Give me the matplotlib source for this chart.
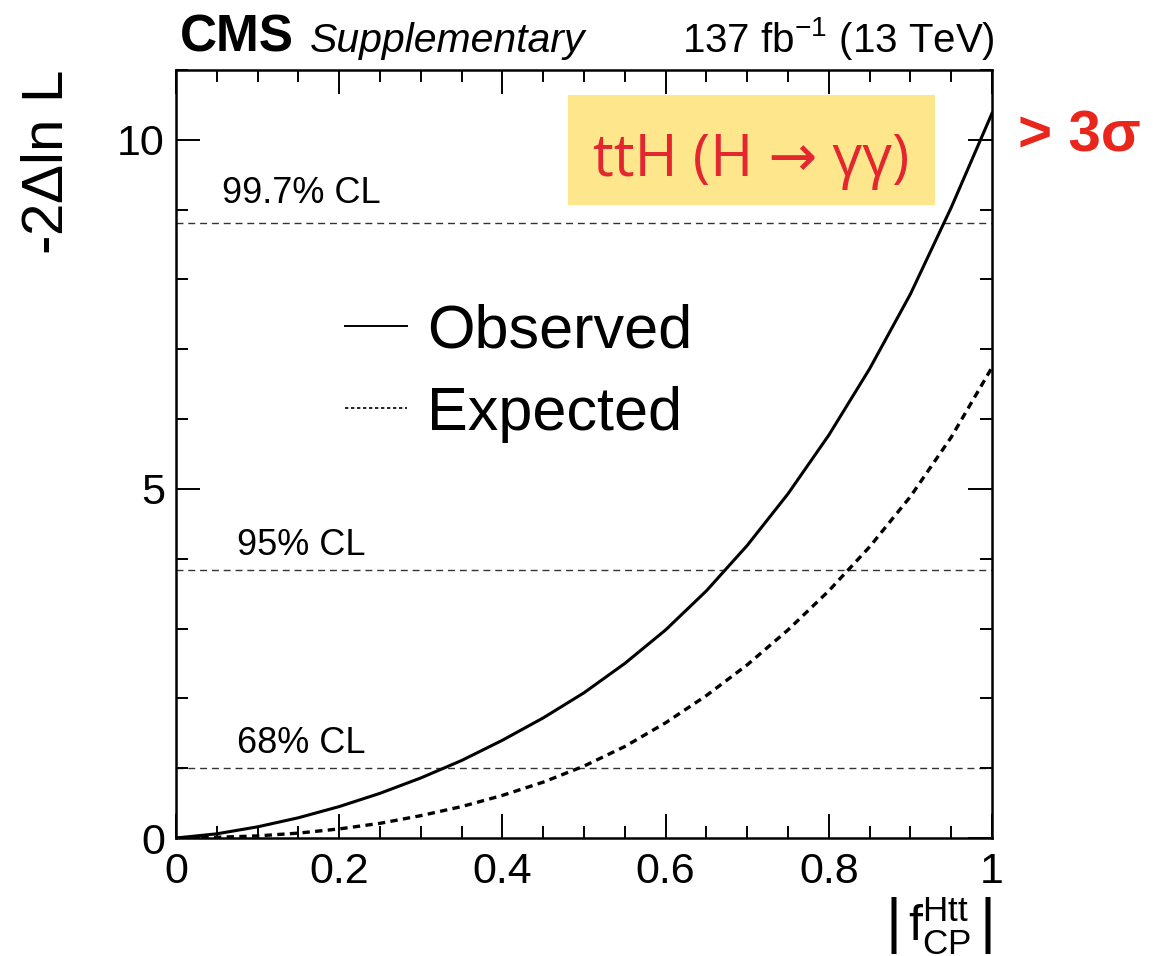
import matplotlib
matplotlib.use("Agg")
import matplotlib.pyplot as plt
from matplotlib.lines import Line2D
from matplotlib.patches import Rectangle

# ---------------- data ----------------
fcp = [0.00, 0.05, 0.10, 0.15, 0.20, 0.25, 0.30, 0.35, 0.40, 0.45, 0.50,
       0.55, 0.60, 0.65, 0.70, 0.75, 0.80, 0.85, 0.90, 0.95, 1.00]
observed = [0.00, 0.06, 0.16, 0.29, 0.45, 0.64, 0.86, 1.11, 1.40, 1.72, 2.08,
            2.50, 2.98, 3.54, 4.19, 4.93, 5.77, 6.72, 7.79, 9.03, 10.38]
expected = [0.00, 0.01, 0.03, 0.07, 0.13, 0.21, 0.32, 0.45, 0.61, 0.80, 1.03,
            1.31, 1.65, 2.04, 2.48, 2.98, 3.54, 4.17, 4.89, 5.74, 6.74]
cl_levels = [1.0, 3.84, 8.81]
cl_labels = ["68% CL", "95% CL", "99.7% CL"]
x_ticks = [0, 0.2, 0.4, 0.6, 0.8, 1]
x_ticklabels = ["0", "0.2", "0.4", "0.6", "0.8", "1"]
y_ticks = [0, 5, 10]

plt.rcParams['font.family'] = ['Liberation Sans', 'DejaVu Sans']
plt.rcParams['mathtext.fontset'] = 'custom'
plt.rcParams['mathtext.rm'] = 'Liberation Sans'
plt.rcParams['mathtext.it'] = 'Liberation Sans:italic'
plt.rcParams['mathtext.bf'] = 'Liberation Sans:bold'

W, H = 1162, 956
fig = plt.figure(figsize=(W / 100, H / 100), dpi=100)
ax = fig.add_axes([176 / W, (956 - 838) / H, (992 - 176) / W, (838 - 70) / H])

# CL lines and labels
for lvl, lab in zip(cl_levels, cl_labels):
    ax.axhline(lvl, color='#333333', lw=1.0, linestyle=(0, (5, 3.5)), zorder=1)
    ax.text(0.154, lvl + (0.28 if lvl > 5 else 0.22), lab, ha='center', va='baseline',
            fontsize=26, color='black')

ax.plot(fcp, observed, color='black', lw=2.2, zorder=3)
ax.plot(fcp, expected, color='black', lw=2.4, linestyle=(0, (2.2, 1.6)), zorder=3)

ax.set_xlim(0, 1)
ax.set_ylim(0, 11)
ax.set_xticks(x_ticks)
ax.set_xticklabels(x_ticklabels)
ax.set_yticks(y_ticks)
ax.set_xticks([i * 0.05 for i in range(21)], minor=True)
ax.set_yticks(list(range(12)), minor=True)
ax.tick_params(which='both', direction='in', top=True, right=True, width=1.4,
               labelsize=31)
ax.tick_params(which='major', length=17)
ax.tick_params(which='minor', length=8.5)
ax.tick_params(axis='x', which='major', pad=10)
ax.tick_params(axis='y', which='major', pad=8)
for s in ax.spines.values():
    s.set_linewidth(1.8)

ax.set_ylabel(r"-2$\Delta$ln L", fontsize=42, loc='top', labelpad=30)
ax.set_xlabel(r"$\left|\,\mathrm{f}_{\rm CP}^{\rm Htt}\,\right|$", fontsize=36,
              loc='right', labelpad=2)

# legend
handles = [Line2D([], [], color='black', lw=1.4),
           Line2D([], [], color='black', lw=1.2, linestyle=(0, (2, 1.6)))]
ax.legend(handles, ["Observed", "Expected"], loc='center left',
          bbox_to_anchor=(0.207, 0.6055), frameon=False, fontsize=44,
          handlelength=1.02, handletextpad=0.32, labelspacing=0.41,
          borderpad=0, borderaxespad=0)

# header
fig.text(180 / W, 1 - 52 / H, "CMS", fontsize=37, fontweight='bold', ha='left', va='baseline')
fig.text(310 / W, 1 - 52 / H, "Supplementary", fontsize=29.5, style='italic', ha='left', va='baseline')
fig.text(995 / W, 1 - 52 / H, r"137 fb$^{-1}$ (13 TeV)", fontsize=29, ha='right', va='baseline')

# annotation box
fig.patches.append(Rectangle((568 / W, 1 - 205 / H), (935 - 568) / W, (205 - 95) / H,
                             transform=fig.transFigure, facecolor='#FDE68B',
                             edgecolor='none', zorder=0))
fig.text((568 + 935) / 2 / W, 1 - 176 / H, "ttH (H → γγ)", fontsize=42,
         color='#E3262F', ha='center', va='baseline',
         family=['Open Sans', 'DejaVu Sans'])
fig.text(1018 / W, 1 - 151 / H, "> 3σ", fontsize=42, fontweight='bold',
         color='#E8261C', ha='left', va='baseline')

fig.savefig("out.png", dpi=100)
